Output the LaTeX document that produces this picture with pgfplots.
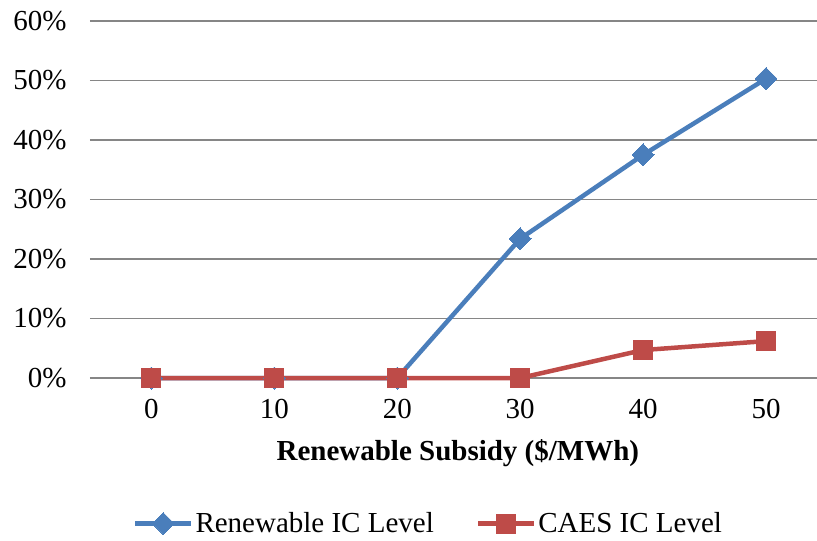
\documentclass[border=0pt]{standalone}
\usepackage{fontspec}
\setmainfont{Liberation Serif}
\usepackage{pgfplots}
\pgfplotsset{compat=1.18}

\definecolor{renblue}{HTML}{4A7EBB}
\definecolor{caesred}{HTML}{BE4B48}
\definecolor{gridgray}{HTML}{868686}

\begin{document}
\begin{tikzpicture}[x=1pt,y=1pt]
\useasboundingbox (0,0) rectangle (817,541);
\begin{axis}[
  at={(90pt,163pt)}, anchor=south west,
  scale only axis,
  width=727pt, height=357pt,
  xmin=-0.5, xmax=5.415,
  ymin=0, ymax=0.6,
  xtick={0,1,2,3,4,5},
  xticklabels={0,10,20,30,40,50},
  ytick={0,0.1,0.2,0.3,0.4,0.5,0.6},
  yticklabels={0\%,10\%,20\%,30\%,40\%,50\%,60\%},
  major tick length=0pt,
  axis line style={draw=none},
  ymajorgrids,
  grid style={gridgray, line width=1.4pt},
  clip=false,
  tick label style={font=\fontsize{29}{34}\selectfont},
  yticklabel style={xshift=-20pt},
  xticklabel style={yshift=-18pt},
  xlabel={\textbf{Renewable Subsidy (\$/MWh)}},
  xlabel style={font=\fontsize{29}{34}\selectfont,
    at={(axis description cs:0.506,-0.21)}, anchor=center},
  legend style={
    at={(0.4656,-0.408)}, anchor=center,
    draw=none, fill=none,
    legend columns=2,
    font=\fontsize{29}{34}\selectfont,
    /tikz/every even column/.append style={column sep=40pt},
    inner sep=0pt,
  },
  legend cell align=left,
  legend image code/.code={%
    \draw[mark repeat=2,mark phase=2] plot coordinates {(0pt,0pt) (28pt,0pt) (56pt,0pt)};
  },
]
\addplot[renblue, line width=4.5pt, mark=diamond*, mark size=11pt,
  mark options={solid, line width=0pt, xscale=1.333}]
  coordinates {(0,0) (1,0) (2,0) (3,0.234) (4,0.375) (5,0.503)};
\addlegendentry{Renewable IC Level}
\addplot[caesred, line width=4.5pt, mark=square*, mark size=9.5pt,
  mark options={solid, line width=0pt}]
  coordinates {(0,0) (1,0) (2,0) (3,0) (4,0.047) (5,0.062)};
\addlegendentry{CAES IC Level}
\end{axis}
\end{tikzpicture}
\end{document}
